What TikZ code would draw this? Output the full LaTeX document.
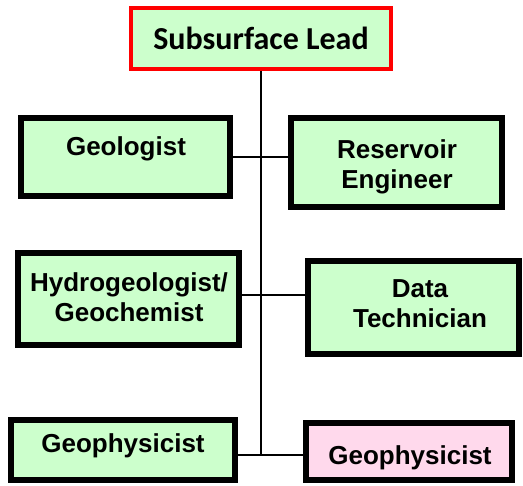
\documentclass[tikz,border=0pt]{standalone}
\usepackage{fontspec}
\setmainfont{Liberation Sans}
\newfontfamily\leadfont{Carlito}
\definecolor{boxgreen}{HTML}{CCFFCC}
\definecolor{boxpink}{HTML}{FFD9EC}
\definecolor{leadred}{HTML}{FF0000}
\begin{document}
\begin{tikzpicture}[x=1pt,y=-1pt,
  rolebox/.style={draw=black, line width=6pt, fill=boxgreen, inner sep=0pt},
  roletext/.style={font=\fontsize{26}{30}\selectfont\bfseries, align=center, inner sep=0pt},
  link/.style={draw=black, line width=2pt}]
\useasboundingbox (0,0) rectangle (523,486);

% lead box
\node[draw=leadred, line width=4pt, fill=boxgreen, minimum width=260pt, minimum height=61pt,
      inner sep=0pt, font=\leadfont\fontsize{32}{36}\selectfont\bfseries] (lead) at (261,38.5) {Subsurface Lead};

% team boxes
\node[rolebox, minimum width=209pt, minimum height=78pt] (geo) at (125.5,157) {};
\node[rolebox, minimum width=211pt, minimum height=89pt] (res) at (396.5,162.5) {};
\node[rolebox, minimum width=221pt, minimum height=92pt] (hyd) at (128.5,299) {};
\node[rolebox, minimum width=211pt, minimum height=93pt] (dat) at (413.5,307.5) {};
\node[rolebox, minimum width=224pt, minimum height=60pt] (gp1) at (123,450) {};
\node[rolebox, fill=boxpink, minimum width=206pt, minimum height=57pt] (gp2) at (409,451.5) {};

% labels
\node[roletext] (geot) at (126,148.5) {Geologist};
\node[roletext] (rest) at (397,167) {Reservoir\\Engineer};
\node[roletext] (hydt) at (129,297) {Hydrogeologist/\\Geochemist};
\node[roletext] (datt) at (420,304) {Data\\Technician};
\node[roletext] (gp1t) at (123,445.5) {Geophysicist};
\node[roletext] (gp2t) at (410,457.5) {Geophysicist};

% connectors
\coordinate (trunk) at (261,455.5);
\draw[link] (lead.south) -- (trunk);
\draw[link] (geo.east |- 0,157.5) -- (res.west |- 0,157.5);
\draw[link] (hyd.east |- 0,295) -- (dat.west |- 0,295);
\draw[link] (gp1.east |- trunk) -- (gp2.west |- trunk);
\end{tikzpicture}
\end{document}
